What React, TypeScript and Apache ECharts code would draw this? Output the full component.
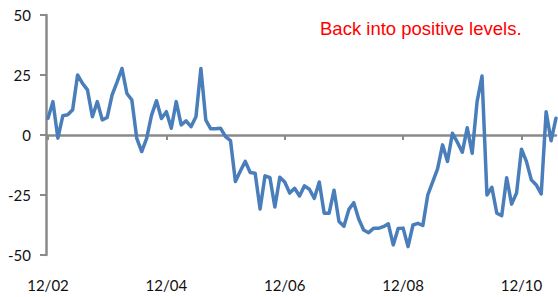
import React, { useEffect, useRef } from "react";
import * as echarts from "echarts";

const START_YEAR = 2002;
const START_MONTH = 12;

const values: number[] = [
  7, 13.9, -1.3, 8, 8.4, 10.5, 25, 21.5, 18.8, 7.6,
  13.9, 6.3, 7.3, 16.7, 22, 27.7, 17.3, 14.6, -1.4, -6.9,
  -1.4, 8.3, 14.3, 6.9, 9.7, 2.8, 13.9, 4.2, 5.9, 3.5,
  7.6, 27.7, 6.2, 2.6, 2.6, 2.8, -0.7, -2.3, -19.4, -15,
  -11, -15.6, -15.9, -30.8, -17, -17.8, -30, -17.6, -19.6, -24.2,
  -22.2, -25.4, -21.2, -22.6, -26.4, -19.6, -32.6, -32.6, -23, -36,
  -38, -31, -28.2, -35, -39.6, -40.7, -38.9, -38.9, -38.2, -37,
  -45.8, -39, -38.8, -46.5, -37.5, -36.8, -37.7, -25, -19.5, -14,
  -4.1, -11, 0.7, -3, -7.2, 3, -7.6, 13.9, 24.6, -25,
  -21.8, -32.6, -33.6, -17.8, -28.8, -24.2, -5.9, -11, -18.7, -20.8,
  -24.6, 9.7, -2.4, 7,
];

const yTicks: number[] = [-50, -25, 0, 25, 50];
const annotation = "Back into positive levels.";

function monthLabels(count: number): string[] {
  const out: string[] = [];
  let y = START_YEAR;
  let m = START_MONTH;
  for (let i = 0; i < count; i++) {
    out.push(String(m).padStart(2, "0") + "/" + String(y % 100).padStart(2, "0"));
    m += 1;
    if (m > 12) {
      m = 1;
      y += 1;
    }
  }
  return out;
}

const categories = monthLabels(values.length);

export default function App() {
  const ref = useRef<HTMLDivElement>(null);
  useEffect(() => {
    if (!ref.current) return;
    const chart = echarts.init(ref.current, null, { renderer: "svg" });
    const axisColor = "#8a8a8a";
    const labelFont = { fontFamily: "Lato", fontSize: 15, color: "#111" };
    chart.setOption({
      animation: false,
      backgroundColor: "#ffffff",
      grid: { left: 48, right: 2, top: 15, bottom: 42, containLabel: false },
      xAxis: [
        {
          type: "category",
          data: categories,
          boundaryGap: false,
          axisLine: { onZero: true, lineStyle: { color: axisColor, width: 2.5 } },
          axisTick: { show: true, interval: 23, length: 5, lineStyle: { color: axisColor, width: 2 } },
          axisLabel: { show: false },
          splitLine: { show: false },
        },
        {
          type: "category",
          data: categories,
          boundaryGap: false,
          position: "bottom",
          axisLine: { show: false, onZero: false },
          axisTick: { show: false },
          axisLabel: { interval: 23, margin: 22, ...labelFont },
          splitLine: { show: false },
        },
      ],
      yAxis: {
        type: "value",
        min: yTicks[0],
        max: yTicks[yTicks.length - 1],
        interval: 25,
        offset: 2,
        axisLine: { show: true, onZero: false, lineStyle: { color: axisColor, width: 2.5 } },
        axisTick: { show: true, length: 6, lineStyle: { color: axisColor, width: 2 } },
        axisLabel: { margin: 15, ...labelFont },
        splitLine: { show: false },
      },
      graphic: [
        {
          type: "text",
          left: 320,
          top: 19,
          style: {
            text: annotation,
            fill: "#ff0000",
            font: '18.5px "Liberation Sans", Arial, sans-serif',
          },
        },
      ],
      series: [
        {
          type: "line",
          xAxisIndex: 0,
          data: values,
          symbol: "none",
          smooth: false,
          lineStyle: { color: "#4a7ebb", width: 3.5, join: "round", cap: "round" },
        },
      ],
    });
    return () => chart.dispose();
  }, []);
  return (
    <div
      ref={ref}
      style={{ position: "fixed", left: 0, top: 0, width: 558, height: 297, background: "#fff" }}
    />
  );
}
